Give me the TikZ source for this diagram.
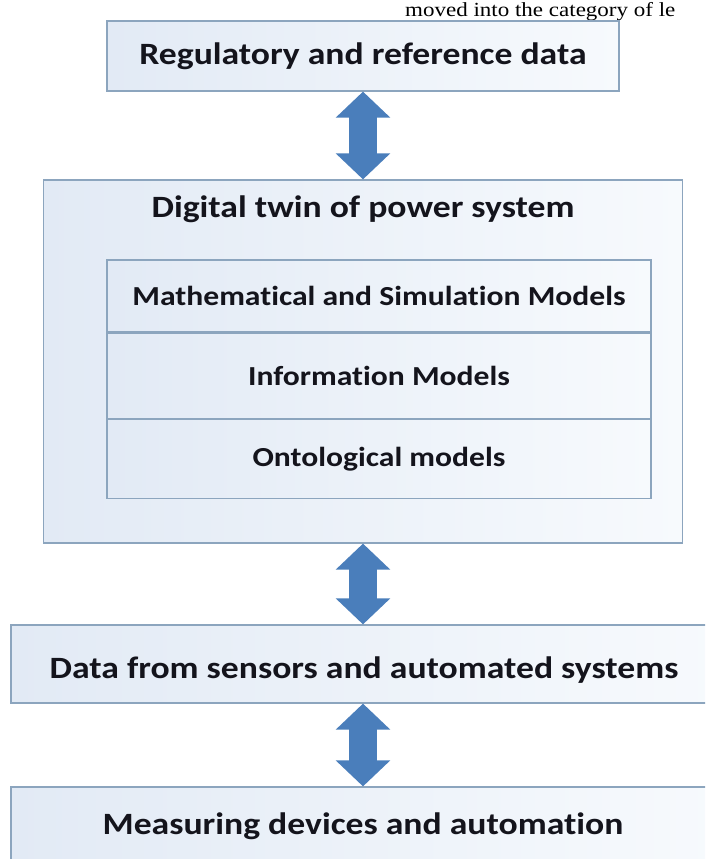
\documentclass[tikz,border=0pt]{standalone}
\usepackage{fontspec}
\usetikzlibrary{arrows.meta,positioning}
\newfontfamily\diagfont{Carlito}[FakeStretch=1.15, Ligatures=NoCommon]
\newfontfamily\paperfont{Liberation Serif}[FakeStretch=1.15]
\definecolor{boxline}{RGB}{140,165,190}
\definecolor{boxleft}{RGB}{226,234,245}
\definecolor{boxright}{RGB}{247,250,253}
\definecolor{arrowblue}{RGB}{74,126,187}
\definecolor{textdark}{RGB}{20,20,28}
\tikzset{
  box/.style={draw=boxline, line width=1.2pt, left color=boxleft, right color=boxright, inner sep=0pt},
  bigtext/.style={font=\diagfont\bfseries\fontsize{31}{37}\selectfont, text=textdark},
  smalltext/.style={font=\diagfont\bfseries\fontsize{27.5}{33}\selectfont, text=textdark},
  dblarrow/.style={draw=arrowblue, line width=28pt, >={Triangle[width=53pt,length=26pt]}, <->}
}
\begin{document}
\begin{tikzpicture}[x=1pt,y=-1pt]
    % Page
    \path[use as bounding box, clip] (0,0) rectangle (705,859);
    \fill[white] (0,0) rectangle (705,859);

    % Line of the paper text above
    \node[anchor=base west, inner sep=0pt, font=\paperfont\fontsize{20}{24}\selectfont] (papertext) at (405,17) {moved into the category of le};

    % Boxes
    \node[box, bigtext, minimum width=512pt, minimum height=70pt] (reg) at (363,56) {Regulatory and reference data};
    \node[box, minimum width=639pt, minimum height=363pt] (twin) at (363,361.5) {};
    \node[bigtext, anchor=base] (twintitle) at (363,217) {Digital twin of power system};
    \node[box, smalltext, minimum width=544pt, minimum height=72pt] (math) at (379,296) {Mathematical and Simulation Models};
    \node[box, smalltext, minimum width=544pt, minimum height=85pt, below=0pt of math] (info) {Information Models};
    \node[box, smalltext, minimum width=544pt, minimum height=79pt, below=0pt of info] (onto) {Ontological models};
    \node[box, minimum width=709pt, minimum height=78pt] (data) at (365.5,664) {};
    \node[bigtext, anchor=base] (datatext) at (364,678) {Data from sensors and automated systems};
    \node[box, minimum width=709pt, minimum height=93pt] (meas) at (365.5,833.5) {};
    \node[bigtext, anchor=base] (meastext) at (363,834) {Measuring devices and automation};

    % Arrows
    \draw[dblarrow] (reg.south) -- (twin.north);
    \draw[dblarrow] (twin.south) -- (twin.south |- data.north);
    \draw[dblarrow] (twin.south |- data.south) -- (twin.south |- meas.north);

\end{tikzpicture}
\end{document}
